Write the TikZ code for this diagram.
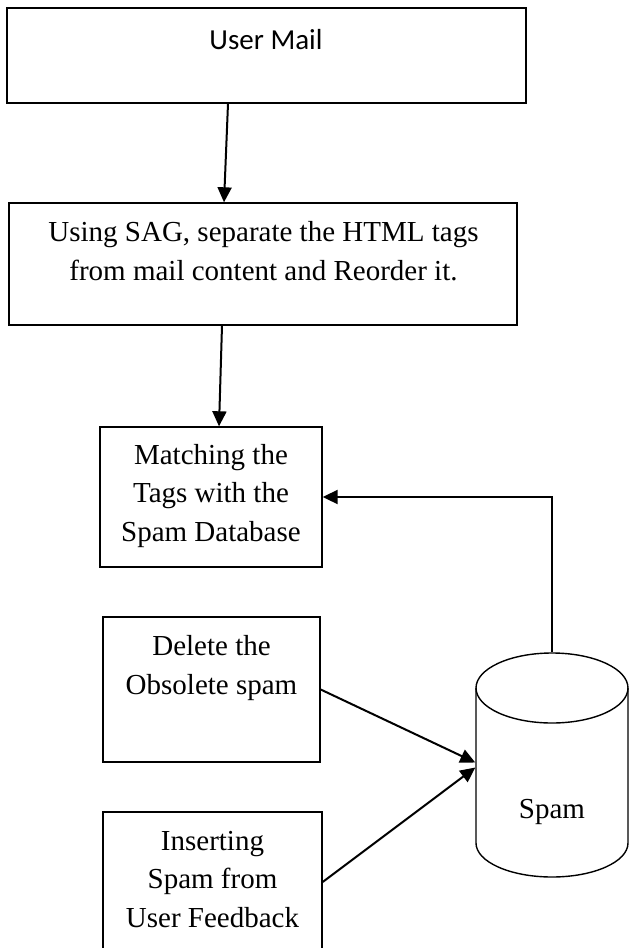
\documentclass[tikz,border=0pt]{standalone}
\usepackage{fontspec}
\setmainfont{Liberation Serif}
\newfontfamily\calibri{Carlito}
\usetikzlibrary{arrows.meta, positioning}

\begin{document}
\begin{tikzpicture}[x=1pt, y=-1pt, line width=1.4pt,
	box/.style={draw, rectangle, inner sep=0pt, line width=1.4pt},
	txt/.style={inner sep=0pt, align=center, font=\fontsize{29}{38.5}\selectfont},
	flow/.style={-{Triangle[length=15pt, width=14pt]}, line width=2pt}]
	\useasboundingbox (0,0) rectangle (630,948);

	% boxes
	\node[box, minimum width=519pt, minimum height=95pt] (mail) at (266.5,55.5) {};
	\node[box, minimum width=508pt, minimum height=122pt] (sep) at (263,264) {};
	\node[box, minimum width=222pt, minimum height=140pt] (match) at (211,497) {};
	\node[box, minimum width=217pt, minimum height=145pt] (del) at (211.5,689.5) {};
	\node[box, minimum width=219pt, minimum height=140pt] (ins) at (212.5,882) {};
	\node[minimum width=152pt, minimum height=224pt] (spam) at (552,765) {};

	% spam store
	\draw (552,688) ellipse [x radius=76pt, y radius=35pt];
	\draw (476,688) -- (476,843) arc [start angle=180, end angle=360, x radius=76pt, y radius=34pt] -- (628,688);

	% texts (base = last line)
	\node[txt, anchor=base, font=\calibri\fontsize{29}{35}\selectfont] (mailtext) at (266,49) {User Mail};
	\node[txt, anchor=base] (septext) at (263.5,280) {Using SAG, separate the HTML tags\\from mail content and Reorder it.};
	\node[txt, anchor=base] (matchtext) at (211,541) {Matching the\\Tags with the\\Spam Database};
	\node[txt, anchor=base] (deltext) at (211.5,694) {Delete the\\Obsolete spam};
	\node[txt, anchor=base] (instext) at (212.5,927) {Inserting\\Spam from\\User Feedback};
	\node[txt, anchor=base] (spamtext) at (552,818) {Spam};

	% connectors
	\draw[flow] ([xshift=-38.5pt]mail.south) -- ([xshift=-39pt]sep.north);
	\draw[flow] ([xshift=-41pt]sep.south) -- ([xshift=8pt]match.north);
	\draw[flow] (spam.north) |- (match.east);
	\draw[flow] (del.east) -- ([yshift=2.5pt]spam.west);
	\draw[flow] (ins.east) -- ([yshift=-2.5pt]spam.west);
\end{tikzpicture}
\end{document}
